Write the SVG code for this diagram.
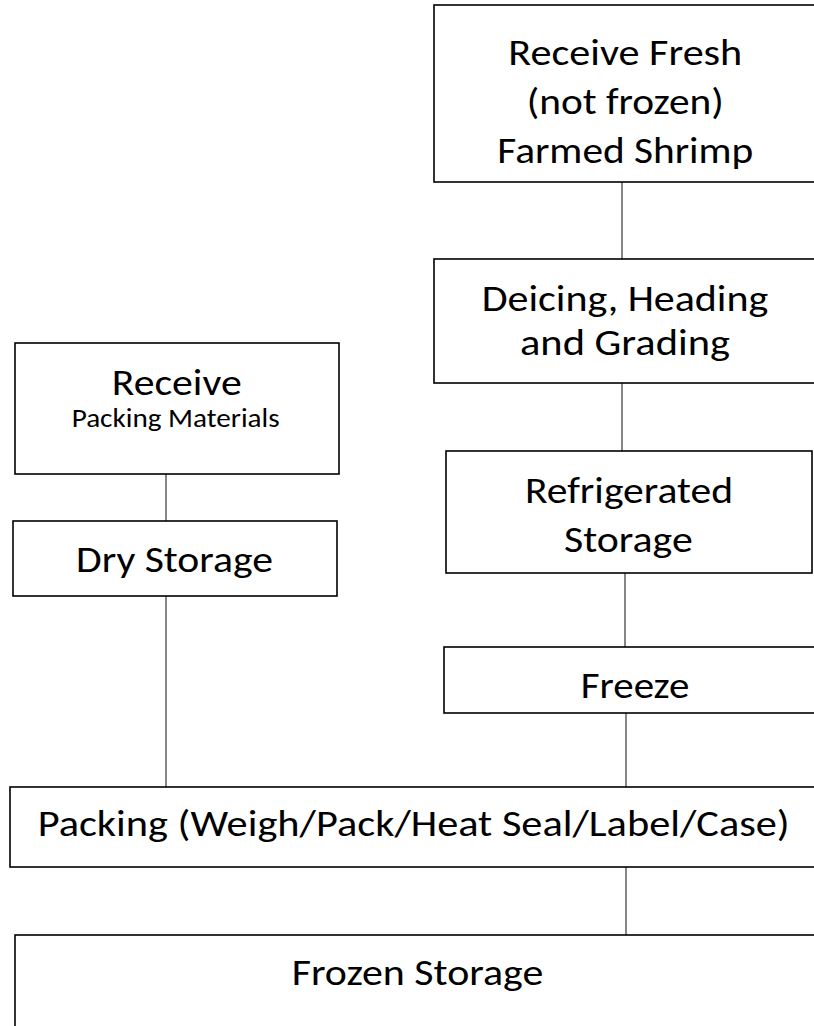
<svg xmlns="http://www.w3.org/2000/svg" width="814" height="1026" viewBox="0 0 814 1026">
<style>
.box{fill:#fff;stroke:#000;stroke-width:1.6}
.t{font-family:Carlito,Lato,"Open Sans","Liberation Sans",sans-serif;font-size:37px;fill:#000}
.s{font-size:26px}
.c{stroke:#444;stroke-width:1.3;fill:none}
</style>
<rect width="814" height="1026" fill="#fff"/>
<g id="connectors">
<line class="c" x1="622" y1="182" x2="622" y2="259"/>
<line class="c" x1="622" y1="383" x2="622" y2="451"/>
<line class="c" x1="625" y1="573" x2="625" y2="647"/>
<line class="c" x1="626" y1="713" x2="626" y2="787"/>
<line class="c" x1="626" y1="867" x2="626" y2="935"/>
<line class="c" x1="166" y1="474" x2="166" y2="521"/>
<line class="c" x1="166" y1="596" x2="166" y2="787"/>
</g>
<g id="receive-fresh">
<rect class="box" x="434" y="5" width="400" height="177"/>
<text class="t" x="508.3" y="64.5" textLength="234" lengthAdjust="spacingAndGlyphs">Receive Fresh</text>
<text class="t" x="526.7" y="113.5" textLength="197" lengthAdjust="spacingAndGlyphs">(not frozen)</text>
<text class="t" x="497.3" y="162.5" textLength="256" lengthAdjust="spacingAndGlyphs">Farmed Shrimp</text>
</g>
<g id="deicing">
<rect class="box" x="434" y="259" width="400" height="124"/>
<text class="t" x="481.7" y="311" textLength="286.6" lengthAdjust="spacingAndGlyphs">Deicing, Heading</text>
<text class="t" x="520" y="355" textLength="210" lengthAdjust="spacingAndGlyphs">and Grading</text>
</g>
<g id="refrigerated">
<rect class="box" x="446" y="451" width="366" height="122"/>
<text class="t" x="525" y="503" textLength="208" lengthAdjust="spacingAndGlyphs">Refrigerated</text>
<text class="t" x="564" y="552" textLength="128.7" lengthAdjust="spacingAndGlyphs">Storage</text>
</g>
<g id="freeze">
<rect class="box" x="444" y="647" width="390" height="66"/>
<text class="t" x="580.7" y="698" textLength="108.6" lengthAdjust="spacingAndGlyphs">Freeze</text>
</g>
<g id="receive-packing">
<rect class="box" x="15" y="343" width="324" height="131"/>
<text class="t" x="111.7" y="395" textLength="130" lengthAdjust="spacingAndGlyphs">Receive</text>
<text class="t s" x="71.7" y="427" textLength="208" lengthAdjust="spacingAndGlyphs">Packing Materials</text>
</g>
<g id="dry-storage">
<rect class="box" x="13" y="521" width="324" height="75"/>
<text class="t" x="76" y="572" textLength="197" lengthAdjust="spacingAndGlyphs">Dry Storage</text>
</g>
<g id="packing">
<rect class="box" x="10" y="787" width="824" height="80"/>
<text class="t" x="37.7" y="836" textLength="752" lengthAdjust="spacingAndGlyphs">Packing (Weigh/Pack/Heat Seal/Label/Case)</text>
</g>
<g id="frozen-storage">
<rect class="box" x="15" y="935" width="819" height="120"/>
<text class="t" x="291.7" y="985" textLength="251.6" lengthAdjust="spacingAndGlyphs">Frozen Storage</text>
</g>
</svg>
